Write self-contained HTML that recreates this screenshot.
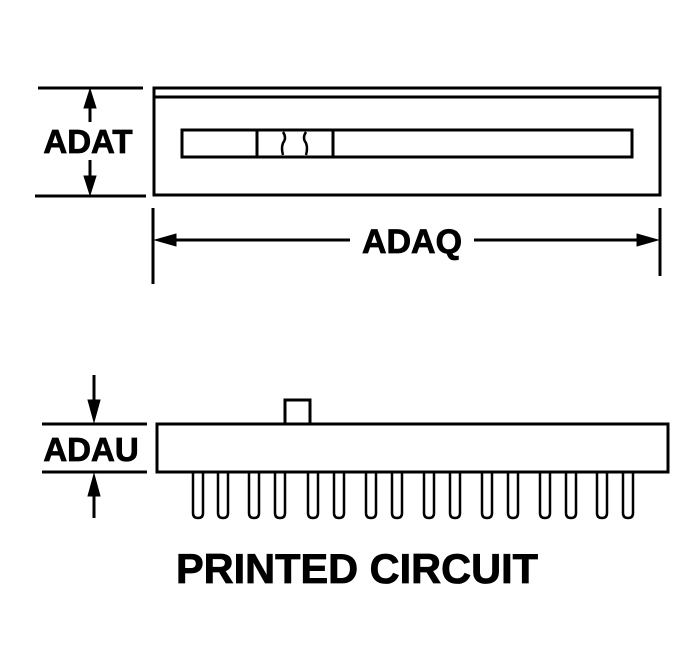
<!DOCTYPE html><html><head><style>body{margin:0;background:#fff}svg{display:block}text{font-family:"Liberation Sans",sans-serif;font-weight:bold;fill:#000}</style></head><body>
<svg width="700" height="652" viewBox="0 0 700 652" stroke="#000" stroke-width="3" fill="none">
<rect x="154" y="88" width="506" height="107"/>
<line x1="154" y1="97" x2="660" y2="97"/>
<rect x="182" y="130" width="450" height="27"/>
<line x1="257" y1="130" x2="257" y2="157"/>
<line x1="333" y1="130" x2="333" y2="157"/>
<path d="M283 132 q4 6 0 11 q-2 5 0 12 M306 132 q-4 6 0 11 q2 5 0 12" stroke-width="2.5"/>
<line x1="38" y1="88" x2="143" y2="88"/><line x1="35" y1="196" x2="146" y2="196"/>
<line x1="90" y1="100" x2="90" y2="122"/><line x1="90" y1="160" x2="90" y2="185"/>
<polygon points="90,89 84,108 96,108" fill="#000" stroke-width="1"/>
<polygon points="90,195 84,176 96,176" fill="#000" stroke-width="1"/>
<text x="88" y="153" font-size="33" text-anchor="middle" stroke="#000" stroke-width="0.8">ADAT</text>
<line x1="153" y1="208" x2="153" y2="284"/><line x1="660" y1="208" x2="660" y2="276"/>
<line x1="168" y1="240" x2="350" y2="240"/><line x1="474" y1="240" x2="645" y2="240"/>
<polygon points="155,240 176,234 176,246" fill="#000" stroke-width="1"/>
<polygon points="658,240 637,234 637,246" fill="#000" stroke-width="1"/>
<text x="412" y="253" font-size="34" text-anchor="middle" stroke="#000" stroke-width="0.8">ADAQ</text>
<rect x="285" y="400" width="25" height="24"/>
<rect x="157" y="424" width="511" height="48"/>
<line x1="42" y1="424" x2="147" y2="424"/><line x1="42" y1="472" x2="147" y2="472"/>
<line x1="94" y1="375" x2="94" y2="405"/><line x1="94" y1="490" x2="94" y2="518"/>
<polygon points="94,422 88,400 100,400" fill="#000" stroke-width="1"/>
<polygon points="94,474 88,496 100,496" fill="#000" stroke-width="1"/>
<text x="91" y="461" font-size="33" text-anchor="middle" stroke="#000" stroke-width="0.8">ADAU</text>
<g stroke-width="2.5">
<path d="M193 473 v40 q0 5 5 5 q5 0 5 -5 v-40"/><path d="M218 473 v40 q0 5 5 5 q5 0 5 -5 v-40"/>
<path d="M249 473 v40 q0 5 5 5 q5 0 5 -5 v-40"/><path d="M275 473 v40 q0 5 5 5 q5 0 5 -5 v-40"/>
<path d="M308 473 v40 q0 5 5 5 q5 0 5 -5 v-40"/><path d="M334 473 v40 q0 5 5 5 q5 0 5 -5 v-40"/>
<path d="M366 473 v40 q0 5 5 5 q5 0 5 -5 v-40"/><path d="M392 473 v40 q0 5 5 5 q5 0 5 -5 v-40"/>
<path d="M424 473 v40 q0 5 5 5 q5 0 5 -5 v-40"/><path d="M450 473 v40 q0 5 5 5 q5 0 5 -5 v-40"/>
<path d="M482 473 v40 q0 5 5 5 q5 0 5 -5 v-40"/><path d="M508 473 v40 q0 5 5 5 q5 0 5 -5 v-40"/>
<path d="M540 473 v40 q0 5 5 5 q5 0 5 -5 v-40"/><path d="M566 473 v40 q0 5 5 5 q5 0 5 -5 v-40"/>
<path d="M597 473 v40 q0 5 5 5 q5 0 5 -5 v-40"/><path d="M623 473 v40 q0 5 5 5 q5 0 5 -5 v-40"/>
</g>
<text x="357" y="583" font-size="41.5" text-anchor="middle" stroke="#000" stroke-width="0.8">PRINTED CIRCUIT</text>
</svg></body></html>
